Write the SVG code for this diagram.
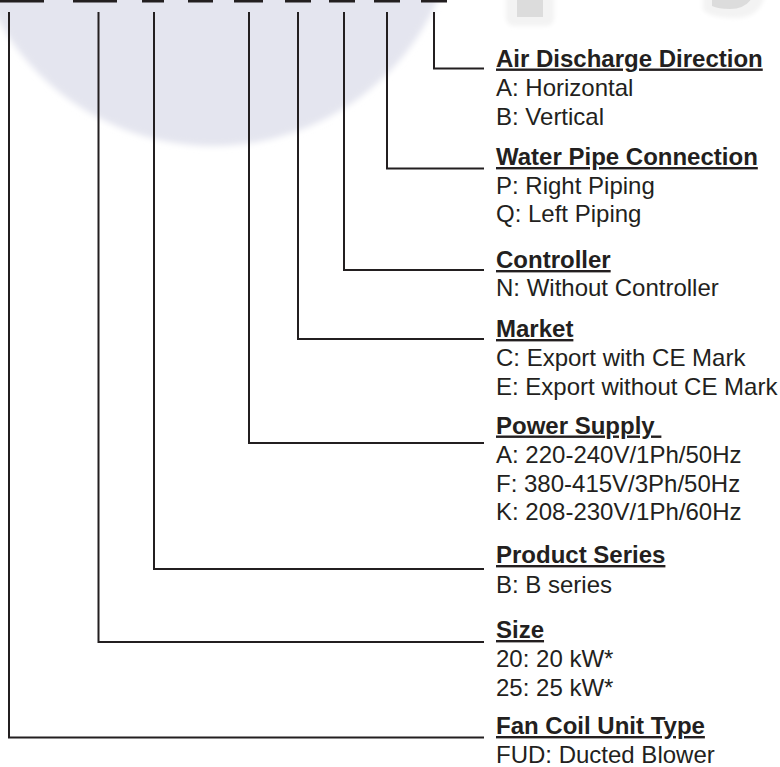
<svg xmlns="http://www.w3.org/2000/svg" width="780" height="767" viewBox="0 0 780 767">
<defs>
<filter id="soft" x="-20%" y="-20%" width="140%" height="140%"><feGaussianBlur stdDeviation="3"/></filter>
<filter id="soft2" x="-50%" y="-50%" width="200%" height="200%"><feGaussianBlur stdDeviation="2"/></filter>
<style>
.t{font-family:"Liberation Sans",Arial,sans-serif;font-size:24px;fill:#231f20}
.h{font-weight:bold;text-decoration:underline}
.ln{fill:none;stroke:#231f20;stroke-width:2}
.dash{stroke:#231f20;stroke-width:2.6}
</style>
</defs>
<rect width="780" height="767" fill="#ffffff"/>
<g id="watermark">
<circle cx="213" cy="-100" r="246" fill="#e4e5ef" filter="url(#soft)"/>
<rect x="506" y="-10" width="48" height="36" rx="8" fill="#f3f3f3" filter="url(#soft2)"/>
<rect x="517" y="-5" width="26" height="22" fill="#dcdcdc"/>
<path d="M703,-5 L765,-5 Q760,18 735,18 Q712,18 703,10 Z" fill="#f3f3f3" filter="url(#soft2)"/>
<path d="M712,-2 L752,-2 Q745,9 730,9 Q718,9 712,6 Z" fill="#dcdcdc"/>
</g>
<g id="code-dashes">
<line class="dash" x1="0" y1="1.2" x2="44" y2="1.2"/>
<line class="dash" x1="73" y1="1.2" x2="117" y2="1.2"/>
<line class="dash" x1="142" y1="1.2" x2="164" y2="1.2"/>
<line class="dash" x1="188" y1="1.2" x2="213" y2="1.2"/>
<line class="dash" x1="234" y1="1.2" x2="263" y2="1.2"/>
<line class="dash" x1="285" y1="1.2" x2="311" y2="1.2"/>
<line class="dash" x1="329" y1="1.2" x2="355" y2="1.2"/>
<line class="dash" x1="374" y1="1.2" x2="400" y2="1.2"/>
<line class="dash" x1="421" y1="1.2" x2="447" y2="1.2"/>
</g>
<g id="connectors">
<polyline class="ln" points="434,12 434,68.5 484,68.5"/>
<polyline class="ln" points="387,12 387,168.5 484,168.5"/>
<polyline class="ln" points="344,12 344,270 484,270"/>
<polyline class="ln" points="298,12 298,339 484,339"/>
<polyline class="ln" points="249,12 249,443 484,443"/>
<polyline class="ln" points="154,12 154,569 484,569"/>
<polyline class="ln" points="98.5,12 98.5,642 484,642"/>
<polyline class="ln" points="9,12 9,737.5 484,737.5"/>
</g>
<g id="air-discharge">
<text class="t h" x="496" y="66.5">Air Discharge Direction</text>
<text class="t" x="496" y="96">A: Horizontal</text>
<text class="t" x="496" y="124.5">B: Vertical</text>
</g>
<g id="water-pipe">
<text class="t h" x="496" y="165">Water Pipe Connection</text>
<text class="t" x="496" y="193.5">P: Right Piping</text>
<text class="t" x="496" y="222">Q: Left Piping</text>
</g>
<g id="controller">
<text class="t h" x="496" y="268">Controller</text>
<text class="t" x="496" y="296">N: Without Controller</text>
</g>
<g id="market">
<text class="t h" x="496" y="337">Market</text>
<text class="t" x="496" y="366">C: Export with CE Mark</text>
<text class="t" x="496" y="395">E: Export without CE Mark</text>
</g>
<g id="power-supply">
<text class="t h" x="496" y="433.5">Power Supply&#160;</text>
<text class="t" x="496" y="463">A: 220-240V/1Ph/50Hz</text>
<text class="t" x="496" y="491.5">F: 380-415V/3Ph/50Hz</text>
<text class="t" x="496" y="520">K: 208-230V/1Ph/60Hz</text>
</g>
<g id="product-series">
<text class="t h" x="496" y="563">Product Series</text>
<text class="t" x="496" y="592.5">B: B series</text>
</g>
<g id="size">
<text class="t h" x="496" y="638">Size</text>
<text class="t" x="496" y="667">20: 20 kW*</text>
<text class="t" x="496" y="695.5">25: 25 kW*</text>
</g>
<g id="fan-coil-unit-type">
<text class="t h" x="496" y="734">Fan Coil Unit Type</text>
<text class="t" x="496" y="763">FUD: Ducted Blower</text>
</g>
</svg>
